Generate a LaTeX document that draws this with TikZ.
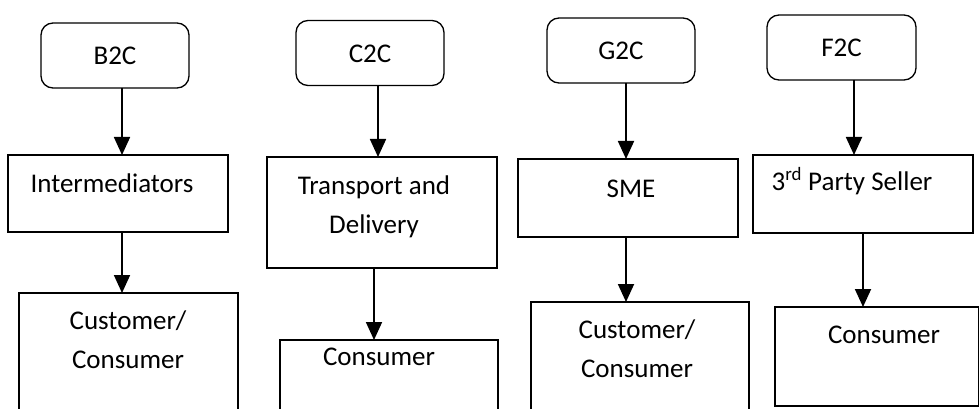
\documentclass[tikz,border=0pt]{standalone}
\usepackage{fontspec}
\setmainfont{Carlito}
\usetikzlibrary{arrows.meta,positioning}
\tikzset{
  % rounded box for the model name
  modelbox/.style={rectangle, rounded corners=12pt, draw=black, line width=1.3pt, inner sep=0pt, outer sep=0pt,
                   minimum width=148pt, minimum height=65pt, text height=19pt, text depth=0pt,
                   font=\fontsize{27}{38}\selectfont},
  % plain box, placed by its top left corner
  plainbox/.style={rectangle, draw=black, line width=1.3pt, inner sep=0pt, outer sep=0pt, anchor=north west},
  % text inside a plain box (anchored on the baseline of its last line)
  boxtext/.style={inner sep=0pt, anchor=base, align=center, font=\fontsize{27}{38.5}\selectfont},
  % flow arrow
  flowarrow/.style={-{Triangle[length=18pt,width=16pt]}, line width=1.8pt},
}

\begin{document}
\begin{tikzpicture}[x=1pt,y=-1pt]
  \useasboundingbox (0,0) rectangle (980,409);
  \clip (0,0) rectangle (980,409);

  % B2C
  \node[modelbox] (b2c) at (115,55.5) {B2C};
  \node[plainbox, minimum width=220pt, minimum height=77pt] (inter) at (8,155) {};
  \node[boxtext] (intertxt) at (112,193) {Intermediators};
  \node[plainbox, minimum width=219pt, minimum height=137pt] (custa) at (19,293) {};
  \node[boxtext] (custatxt) at (128,368) {Customer/\\Consumer};
  \draw[flowarrow] ([xshift=7pt]b2c.south) -- ([xshift=4pt]inter.north);
  \draw[flowarrow] ([xshift=4pt]inter.south) -- ([xshift=-6.5pt]custa.north);

  % C2C
  \node[modelbox] (c2c) at (370,53) {C2C};
  \node[plainbox, minimum width=230pt, minimum height=111pt] (trans) at (267,157) {};
  \node[boxtext] (transtxt) at (374,233) {Transport and\\Delivery};
  \node[plainbox, minimum width=218pt, minimum height=90pt] (consb) at (280,340) {};
  \node[boxtext] (consbtxt) at (379,365) {Consumer};
  \draw[flowarrow] ([xshift=8pt]c2c.south) -- ([xshift=-4pt]trans.north);
  \draw[flowarrow] ([xshift=-8pt]trans.south) -- ([xshift=-15pt]consb.north);

  % G2C
  \node[modelbox] (g2c) at (621,50.5) {G2C};
  \node[plainbox, minimum width=220pt, minimum height=78pt] (sme) at (518,159) {};
  \node[boxtext] (smetxt) at (631,197) {SME};
  \node[plainbox, minimum width=218pt, minimum height=128pt] (custc) at (531,302) {};
  \node[boxtext] (custctxt) at (637,377) {Customer/\\Consumer};
  \draw[flowarrow] ([xshift=5pt]g2c.south) -- ([xshift=-2pt]sme.north);
  \draw[flowarrow] ([xshift=-2pt]sme.south) -- ([xshift=-14pt]custc.north);

  % F2C
  \node[modelbox, minimum width=149pt] (f2c) at (841.5,47.5) {F2C};
  \node[plainbox, minimum width=220pt, minimum height=78pt] (third) at (753,155) {};
  \node[boxtext] (thirdtxt) at (852,190) {3\textsuperscript{rd} Party Seller};
  \node[plainbox, minimum width=203.5pt, minimum height=99pt] (consd) at (775,307) {};
  \node[boxtext] (consdtxt) at (884,343) {Consumer};
  \draw[flowarrow] ([xshift=12.5pt]f2c.south) -- ([xshift=-9pt]third.north);
  \draw[flowarrow] (third.south) -- ([xshift=-13.75pt]consd.north);
\end{tikzpicture}
\end{document}
